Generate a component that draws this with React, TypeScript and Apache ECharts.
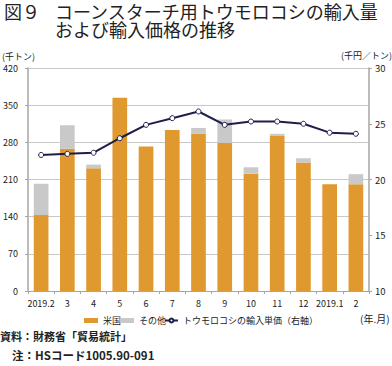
import React, { useEffect, useRef } from "react";
import * as echarts from "echarts";

const categories = ["2019.2", "3", "4", "5", "6", "7", "8", "9", "10", "11", "12", "2019.1", "2"];
const usValues = [143, 268, 231, 364, 272, 303, 296, 279, 221, 292, 242, 201, 201];
const otherValues = [59, 44, 7, 0, 0, 0, 11, 44, 12, 4, 8, 0, 19];
const priceValues = [22.2, 22.3, 22.4, 23.7, 24.9, 25.5, 26.1, 24.9, 25.2, 25.2, 25.0, 24.2, 24.1];
const leftTicks = { min: 0, max: 420, interval: 70 };
const rightTicks = { min: 10, max: 30, interval: 5 };
const seriesNames = ["米国", "その他", "トウモロコシの輸入単価（右軸）"];

const FONT = "'Noto Sans CJK JP', 'Noto Sans', sans-serif";

export default function App() {
  const ref = useRef<HTMLDivElement>(null);
  useEffect(() => {
    if (!ref.current) return;
    const chart = echarts.init(ref.current, null, { renderer: "svg" });
    const legendBase = {
      top: 316,
      padding: 0,
      itemWidth: 14,
      itemHeight: 5,
      textStyle: { fontSize: 9, color: "#222", fontFamily: FONT },
    };
    chart.setOption({
      animation: false,
      textStyle: { fontFamily: FONT },
      grid: { left: 28, right: 23, top: 68, bottom: 75 },
      legend: [
        { ...legendBase, left: 84, data: [{ name: seriesNames[0], icon: "rect" }] },
        { ...legendBase, left: 120, data: [{ name: seriesNames[1], icon: "rect" }] },
        { ...legendBase, left: 164, itemWidth: 13, data: [{ name: seriesNames[2] }] },
      ],
      xAxis: {
        type: "category",
        data: categories,
        axisLine: { lineStyle: { color: "#a6a6a6", width: 1 } },
        axisTick: { show: true, length: 3, lineStyle: { color: "#a6a6a6" } },
        axisLabel: { fontSize: 9, color: "#222", margin: 8, interval: 0, fontFamily: FONT },
      },
      yAxis: [
        {
          type: "value",
          ...leftTicks,
          axisLine: { show: true, lineStyle: { color: "#a6a6a6", width: 1.5 } },
          axisTick: { show: true, length: 3, lineStyle: { color: "#a6a6a6" } },
          axisLabel: { fontSize: 9, color: "#222", margin: 10, fontFamily: FONT },
          splitLine: { lineStyle: { color: "#c8c8c8", width: 1 } },
        },
        {
          type: "value",
          ...rightTicks,
          position: "right",
          axisLine: { show: true, lineStyle: { color: "#a6a6a6", width: 1.5 } },
          axisTick: { show: true, length: 3, lineStyle: { color: "#a6a6a6" } },
          axisLabel: { fontSize: 9.5, color: "#222", margin: 6, fontFamily: FONT },
          splitLine: { show: false },
        },
      ],
      series: [
        {
          name: seriesNames[0],
          type: "bar",
          stack: "total",
          data: usValues,
          barWidth: "56%",
          itemStyle: { color: "#e0992e" },
        },
        {
          name: seriesNames[1],
          type: "bar",
          stack: "total",
          data: otherValues,
          barWidth: "56%",
          itemStyle: { color: "#c9c9c9" },
        },
        {
          name: seriesNames[2],
          type: "line",
          yAxisIndex: 1,
          data: priceValues,
          symbol: "circle",
          symbolSize: 5,
          lineStyle: { color: "#1e1e4a", width: 2 },
          itemStyle: { color: "#ffffff", borderColor: "#1e1e4a", borderWidth: 1 },
        },
      ],
      graphic: [
        { type: "text", left: 4, top: 1.5, style: { text: "図９", font: `18px ${FONT}`, lineHeight: 18, fill: "#222" } },
        {
          type: "text",
          left: 55,
          top: 1.5,
          style: {
            text: "コーンスターチ用トウモロコシの輸入量\nおよび輸入価格の推移",
            font: `18px ${FONT}`,
            lineHeight: 18,
            fill: "#222",
          },
        },
        { type: "text", left: 2, top: 52, style: { text: "(千トン)", font: `9px ${FONT}`, fill: "#222" } },
        { type: "text", right: 0, top: 51, style: { text: "(千円／トン)", font: `9px ${FONT}`, fill: "#222" } },
        { type: "text", left: 360, top: 313, style: { text: "(年.月)", font: `10px ${FONT}`, fill: "#222" } },
        { type: "text", left: 0, top: 330, style: { text: "資料：財務省「貿易統計」", font: `bold 11px ${FONT}`, fill: "#222" } },
        { type: "text", left: 12, top: 349, style: { text: "注：HSコード1005.90-091", font: `bold 11.5px ${FONT}`, fill: "#222" } },
      ],
    });
    return () => chart.dispose();
  }, []);
  return <div ref={ref} style={{ width: 392, height: 366, position: "absolute", left: 0, top: 0 }} />;
}
